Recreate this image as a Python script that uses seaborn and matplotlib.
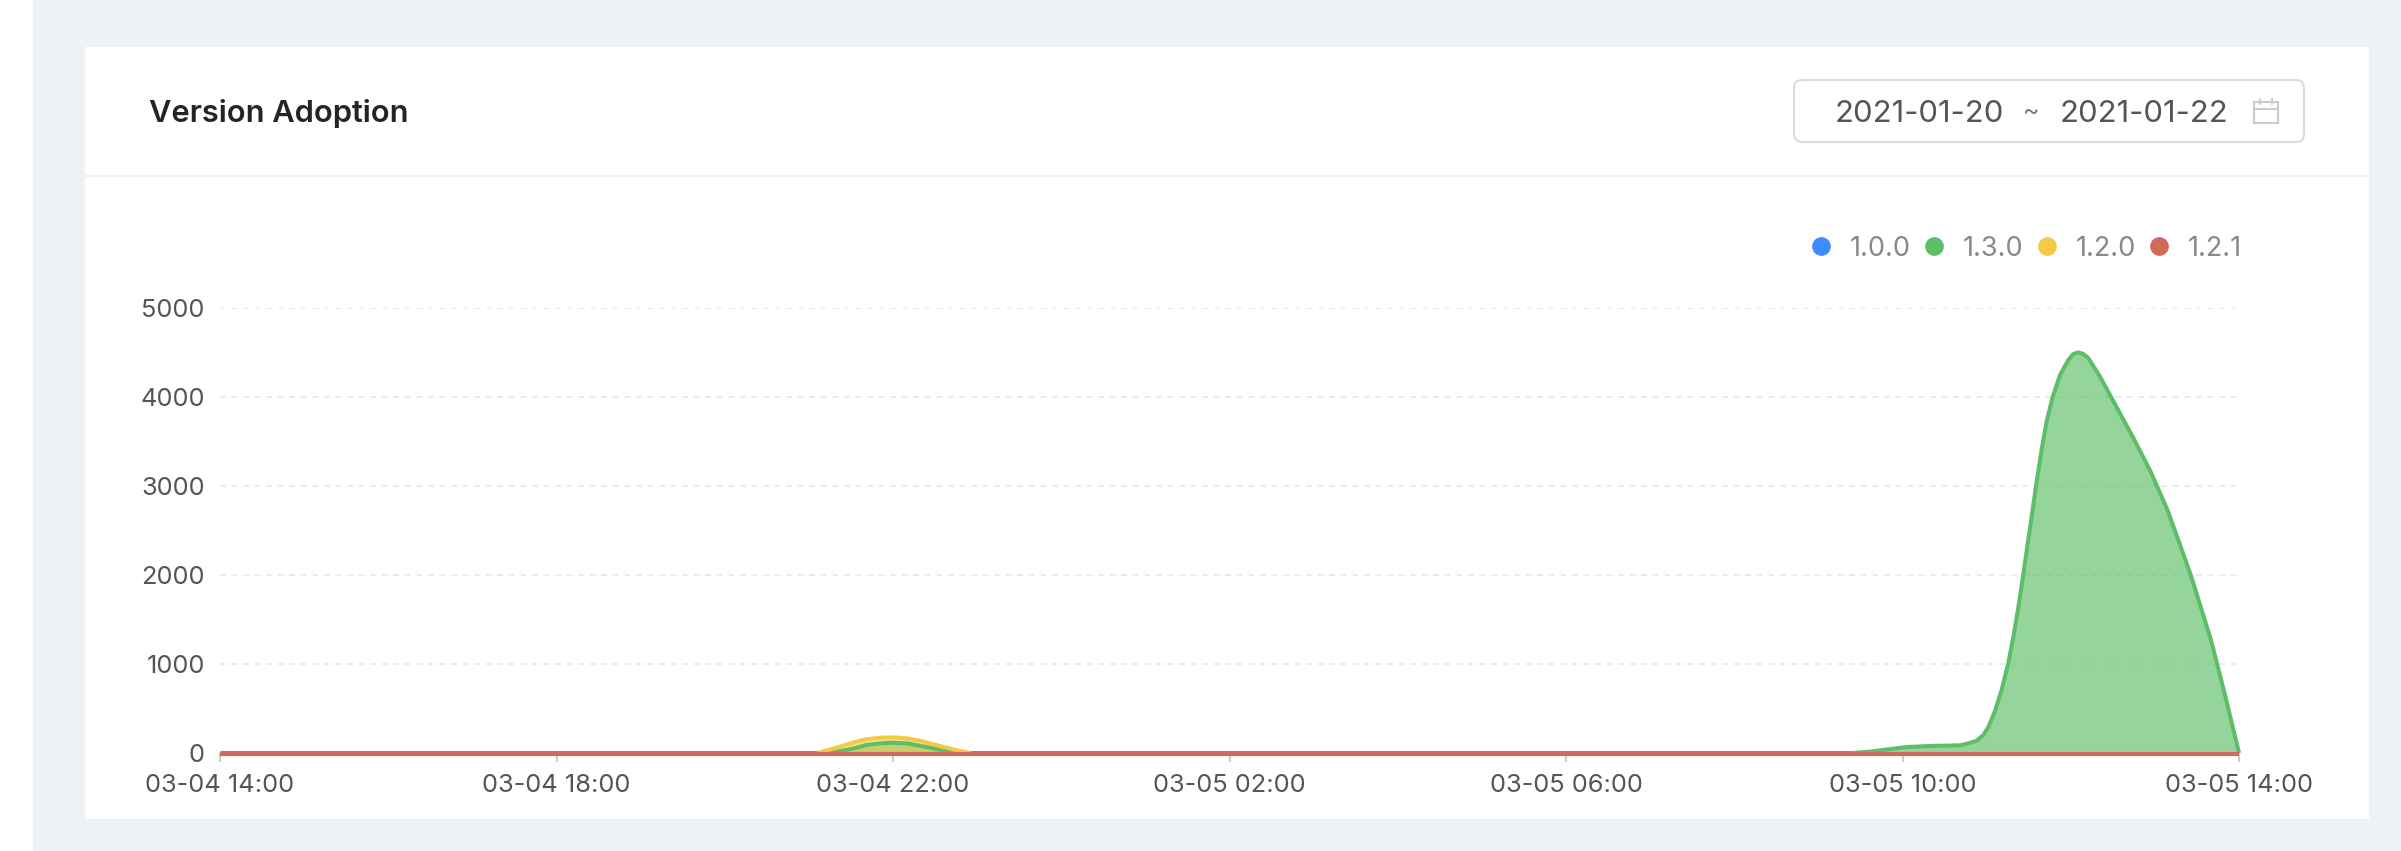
import pandas as pd
import seaborn as sns
import matplotlib.pyplot as plt
import matplotlib.dates as mdates
from matplotlib.lines import Line2D
from matplotlib.patches import FancyBboxPatch, Rectangle
from matplotlib.transforms import ScaledTranslation

versions = ['1.0.0', '1.3.0', '1.2.0', '1.2.1']
legend_colors = ['#3f8cff', '#5cbf67', '#f3ca42', '#cf6b5c']
y_ticks = [0, 1000, 2000, 3000, 4000, 5000]

# flat stretches of 1.0.0 (the rest sits under the other series)
blue_a_times = ['03-04 14:00:00', '03-04 21:06:00']
blue_a_values = [0, 0]
blue_b_times = ['03-04 22:55:00', '03-05 09:23:00']
blue_b_values = [0, 0]

bump_times = ['03-04 21:06:00', '03-04 21:13:00', '03-04 21:22:00', '03-04 21:32:00', '03-04 21:41:00',
              '03-04 21:51:00', '03-04 22:00:00', '03-04 22:10:00', '03-04 22:19:00', '03-04 22:29:00',
              '03-04 22:38:00', '03-04 22:48:00', '03-04 22:55:00']

# 1.3.0, small bump in the evening
green_bump_values = [0, 4, 20, 52, 90, 108, 116, 108, 82, 52, 22, 6, 0]

# 1.2.0
yellow_values = [0, 30, 71, 120, 154, 172, 176, 165, 139, 97, 60, 22, 0]

# 1.3.0, the big release peak
green_times = ['03-05 09:23:00', '03-05 09:36:00', '03-05 10:03:00', '03-05 10:21:00', '03-05 10:41:02',
               '03-05 10:46:55', '03-05 10:52:55', '03-05 10:57:36', '03-05 11:01:12', '03-05 11:05:56',
               '03-05 11:10:44', '03-05 11:15:25', '03-05 11:19:01', '03-05 11:22:37', '03-05 11:25:44',
               '03-05 11:28:34', '03-05 11:31:41', '03-05 11:35:13', '03-05 11:39:18', '03-05 11:42:50',
               '03-05 11:47:10', '03-05 11:52:19', '03-05 11:58:16', '03-05 12:01:48', '03-05 12:05:24',
               '03-05 12:08:56', '03-05 12:12:29', '03-05 12:20:53', '03-05 12:28:01', '03-05 12:35:06',
               '03-05 12:45:00', '03-05 12:57:00', '03-05 13:09:00', '03-05 13:18:00', '03-05 13:26:00',
               '03-05 13:40:00', '03-05 13:50:00', '03-05 14:00:00']
green_values = [0, 14, 67, 80, 86,
                109, 138, 202, 290, 471,
                711, 1008, 1300, 1637, 1963,
                2273, 2607, 3000, 3416, 3730,
                4003, 4247, 4416, 4483, 4502,
                4483, 4438, 4228, 4022, 3817,
                3530, 3160, 2730, 2337, 1981,
                1270, 655, 0]

# 1.2.1
red_times = ['03-04 14:00:00', '03-05 14:00:00']
red_values = [0, 0]


def to_time(labels):
    return pd.to_datetime(['2021-' + t for t in labels], format='%Y-%m-%d %H:%M:%S')


def draw_series(ax, times, values, color, fill=None, shift=0, width=2.9):
    '''
    draw one series with seaborn, optionally with an area under it
    '''
    df = pd.DataFrame({'time': to_time(times), 'count': values})
    if fill is not None:
        ax.fill_between(df['time'], df['count'], 0, color=color, alpha=fill, lw=0, zorder=2)
    before = len(ax.lines)
    sns.lineplot(data=df, x='time', y='count', color=color, linewidth=width, ax=ax,
                 estimator=None, sort=False, errorbar=None, zorder=3)
    line = ax.lines[before]
    line.set_clip_on(False)
    line.set_solid_capstyle('butt')
    line.set_solid_joinstyle('round')
    if shift:
        line.set_transform(ax.transData + ScaledTranslation(0, shift / 100, fig.dpi_scale_trans))


sns.set_theme(style='white')
plt.rcParams['font.family'] = ['Inter', 'DejaVu Sans']

W, H = 2401, 851
fig = plt.figure(figsize=(W / 100, H / 100), dpi=100, facecolor='white')

# page furniture, drawn in pixel coordinates
page = fig.add_axes([0, 0, 1, 1], zorder=0)
page.set_xlim(0, W)
page.set_ylim(H, 0)
page.axis('off')
page.add_patch(Rectangle((33, 0), W - 33, H, color='#eff2f5', lw=0))
page.add_patch(Rectangle((85, 47), 2284, 772, color='white', lw=0))
page.add_patch(Rectangle((85, 175), 2284, 2, color='#eef0f2', lw=0))
page.text(149, 111, 'Version Adoption', fontsize=22.2, fontweight='semibold', color='#222426',
          va='center_baseline', ha='left')
page.add_patch(FancyBboxPatch((1794, 80), 510, 62, boxstyle='round,pad=0,rounding_size=8',
                              fc='white', ec='#d9dcde', lw=1.5))
page.text(1835, 111, '2021-01-20', fontsize=22.4, color='#555555', va='center_baseline', ha='left')
page.text(2031, 113, '~', fontsize=18, color='#777777', va='center', ha='center')
page.text(2060, 111, '2021-01-22', fontsize=22.4, color='#555555', va='center_baseline', ha='left')
# calendar icon
page.add_patch(Rectangle((2254, 102), 24, 21, fc='none', ec='#cccccc', lw=1.5))
page.plot([2254, 2278], [109, 109], color='#cccccc', lw=1.5)
page.plot([2260, 2260], [99, 104], color='#cccccc', lw=1.5)
page.plot([2272, 2272], [99, 104], color='#cccccc', lw=1.5)

ax = fig.add_axes([220 / W, (H - 753) / H, (2239 - 220) / W, (753 - 308) / H], zorder=1)
ax.patch.set_alpha(0)

draw_series(ax, blue_a_times, blue_a_values, '#7f82b5', shift=1.5, width=2.2)
draw_series(ax, blue_b_times, blue_b_values, '#7f82b5', shift=1.5, width=2.2)
draw_series(ax, bump_times, green_bump_values, legend_colors[1], fill=0.65)
draw_series(ax, green_times, green_values, legend_colors[1], fill=0.65)
draw_series(ax, bump_times, yellow_values, legend_colors[2], fill=0.55)
draw_series(ax, red_times, red_values, legend_colors[3], shift=-1, width=3)

ax.set_xlim(to_time(['03-04 14:00:00'])[0], to_time(['03-05 14:00:00'])[0])
ax.set_ylim(0, 5000)
ax.set_yticks(y_ticks)
ax.xaxis.set_major_locator(mdates.HourLocator(byhour=[2, 6, 10, 14, 18, 22]))
ax.xaxis.set_major_formatter(mdates.DateFormatter('%m-%d %H:%M'))
ax.set_xlabel('')
ax.set_ylabel('')
ax.grid(axis='y', color='#e6eaed', lw=1.3, ls=(0, (3.2, 3.2)), zorder=1)
ax.set_axisbelow(True)
sns.despine(ax=ax, left=True, bottom=True, top=True, right=True)
ax.tick_params(axis='y', length=0, pad=11, labelsize=18.3, labelcolor='#555555')
ax.tick_params(axis='x', length=6.5, width=1.5, color='#cccccc', pad=8.5, labelsize=18.3,
               labelcolor='#555555', bottom=True)

handles = [Line2D([], [], marker='o', ls='', color=c, markersize=13.5, markeredgewidth=0)
           for c in legend_colors]
leg = fig.legend(handles, versions, ncol=4, frameon=False, loc='center right',
                 bbox_to_anchor=(2242 / W, (H - 248.5) / H), fontsize=19.5, labelcolor='#888888',
                 handlelength=0.7, handletextpad=0.72, columnspacing=0.5, borderpad=0,
                 borderaxespad=0)

fig.savefig('out.png', dpi=100)
